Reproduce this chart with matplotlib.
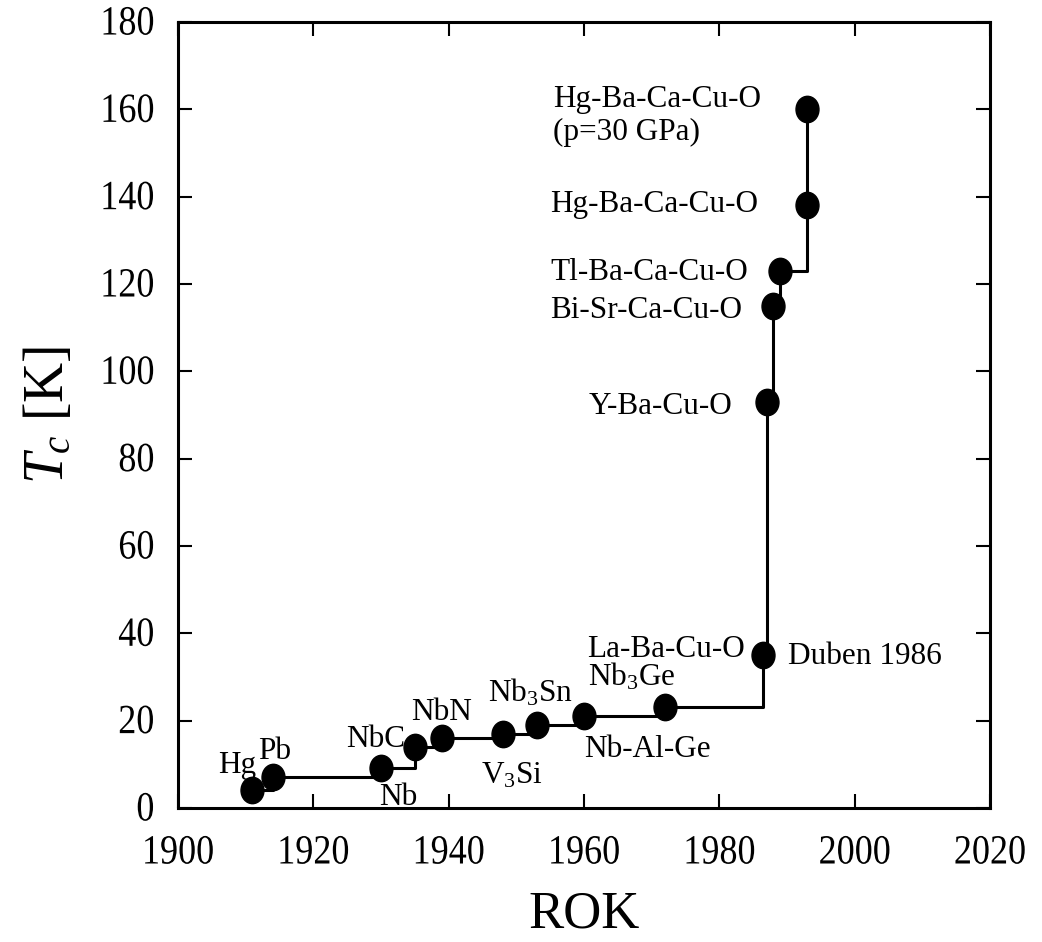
import matplotlib
matplotlib.use("Agg")
import matplotlib.pyplot as plt
from matplotlib.path import Path
from matplotlib.transforms import Affine2D
from matplotlib.patheffects import AbstractPathEffect

plt.rcParams['font.family'] = ['Liberation Serif', 'DejaVu Serif']
plt.rcParams['mathtext.fontset'] = 'custom'
plt.rcParams['mathtext.rm'] = 'Liberation Serif'
plt.rcParams['mathtext.it'] = 'Liberation Serif:italic'
plt.rcParams['mathtext.bf'] = 'Liberation Serif:bold'

# data
years = [1911, 1914, 1930, 1935, 1939, 1948, 1953, 1960, 1972, 1986.5, 1987, 1988, 1989, 1993, 1993]
tc = [4.2, 7.2, 9.2, 14, 16, 17, 19, 21, 23.2, 35, 93, 115, 123, 138, 160]
labels = ['Hg', 'Pb', 'Nb', 'NbC', 'NbN', 'V$_{\\mathit{3}}$Si', 'Nb$_{\\mathit{3}}$Sn',
          'Nb-Al-Ge', 'Nb$_{\\mathit{3}}$Ge', 'La-Ba-Cu-O', 'Y-Ba-Cu-O',
          'Bi-Sr-Ca-Cu-O', 'Tl-Ba-Ca-Cu-O', 'Hg-Ba-Ca-Cu-O', 'Hg-Ba-Ca-Cu-O\n(p=30 GPa)']
extra_label = 'Duben 1986'
xticks = [1900, 1920, 1940, 1960, 1980, 2000, 2020]
yticks = [0, 20, 40, 60, 80, 100, 120, 140, 160, 180]

# label placement (x, y, ha, va)
label_pos = [
    (1908.7, 9.8, 'center', 'center'),
    (1914.3, 13.0, 'center', 'center'),
    (1932.6, 2.3, 'center', 'center'),
    (1929.2, 15.6, 'center', 'center'),
    (1939.0, 21.8, 'center', 'center'),
    (1949.3, 7.4, 'center', 'center'),
    (1952.1, 26.3, 'center', 'center'),
    (1969.4, 13.5, 'center', 'center'),
    (1967.0, 30.0, 'center', 'center'),
    (1983.8, 36.3, 'right', 'center'),
    (1981.9, 92.0, 'right', 'center'),
    (1983.3, 114.0, 'right', 'center'),
    (1984.2, 122.7, 'right', 'center'),
    (1985.7, 138.3, 'right', 'center'),
    (1955.4, 158.5, 'left', 'center'),
]
extra_pos = (1990.1, 34.6)


class VStretch(AbstractPathEffect):
    def __init__(self, sy):
        super().__init__()
        self.sy = sy

    def draw_path(self, renderer, gc, tpath, affine, rgbFace=None):
        renderer.draw_path(gc, tpath, Affine2D().scale(1.0, self.sy) + affine, rgbFace)


fig = plt.figure(figsize=(10.42, 9.42), dpi=100)
ax = fig.add_axes([0.1708, 0.1423, 0.7793, 0.8343])

circ = Path.unit_circle()
ell = circ.transformed(Affine2D().scale(1.0, 1.15))

ax.plot(years, tc, drawstyle='steps-post', color='black', lw=2.2, zorder=2)
ax.plot(years, tc, linestyle='none', marker=ell, markersize=19,
        color='black', zorder=3)

for lab, (x, y, ha, va) in zip(labels, label_pos):
    ax.text(x, y, lab, ha=ha, va=va, fontsize=22.5, multialignment='left',
            linespacing=1.2)
ax.text(extra_pos[0], extra_pos[1], extra_label, ha='left', va='center', fontsize=22.5)

ax.set_xlim(1900, 2020)
ax.set_ylim(0, 180)
ax.set_xticks(xticks)
ax.set_yticks(yticks)
ax.tick_params(direction='in', length=10, width=1.5, top=True, right=True,
               labelsize=26)
ax.tick_params(axis='x', pad=22)
ax.tick_params(axis='y', pad=17)
for lbl in ax.get_xticklabels() + ax.get_yticklabels():
    lbl.set_path_effects([VStretch(1.15)])
for s in ax.spines.values():
    s.set_linewidth(2.2)

ax.set_xlabel('ROK', fontsize=38, labelpad=14)
ax.set_ylabel('$T_c$ [K]', fontsize=40, labelpad=18)

fig.savefig('out.png', dpi=100)
